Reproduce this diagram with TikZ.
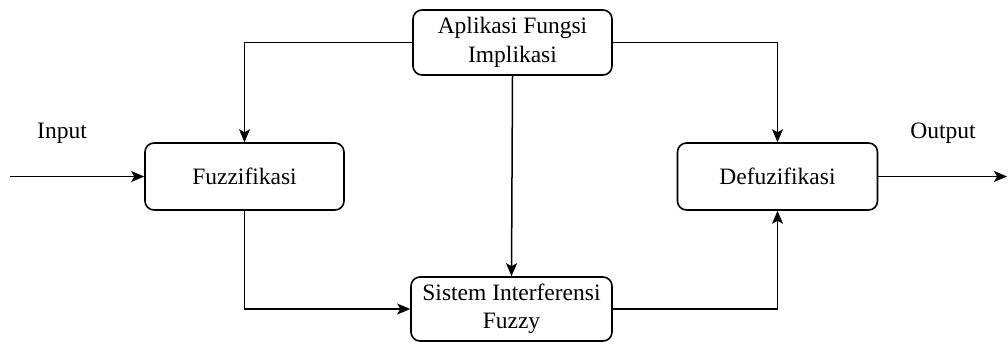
\documentclass[tikz,border=0pt]{standalone}
\usepackage{fontspec}
\setmainfont{Liberation Serif}
\usetikzlibrary{arrows.meta}
\begin{document}
\begin{tikzpicture}[x=1pt,y=-1pt,
  box/.style={draw, line width=1.6pt, rounded corners=9pt, align=center,
    font=\fontsize{23.5}{28.5}\selectfont, inner sep=0pt},
  lbl/.style={font=\fontsize{23.5}{28.5}\selectfont, inner sep=0pt},
  conn/.style={line width=1.5pt, -{Stealth[length=13pt,width=11pt,inset=3pt]}}]
\useasboundingbox (0,0) rectangle (1008,343);
\node[box, minimum width=199pt, minimum height=65pt] (apl) at (512.5,42.5) {Aplikasi Fungsi\\Implikasi};
\node[box, minimum width=199pt, minimum height=67pt] (fuz) at (244.5,176.5) {Fuzzifikasi};
\node[box, minimum width=200pt, minimum height=67pt] (def) at (777.5,176.5) {Defuzifikasi};
\node[box, minimum width=201pt, minimum height=64pt] (sis) at (511.5,309) {Sistem Interferensi\\Fuzzy};
\coordinate (in) at (10,176.5);
\coordinate (out) at (1007,176.5);
\node[lbl] (inl) at (62,133) {Input};
\node[lbl] (outl) at (943,133) {Output};
\draw[conn] (in) -- (fuz.west);
\draw[conn] (def.east) -- (out);
\draw[conn] (apl.west) -| (fuz.north);
\draw[conn] (apl.east) -| (def.north);
\draw[conn] (apl.south) -- (sis.north);
\draw[conn] (fuz.south) |- (sis.west);
\draw[conn] (sis.east) -| (def.south);
\end{tikzpicture}
\end{document}
